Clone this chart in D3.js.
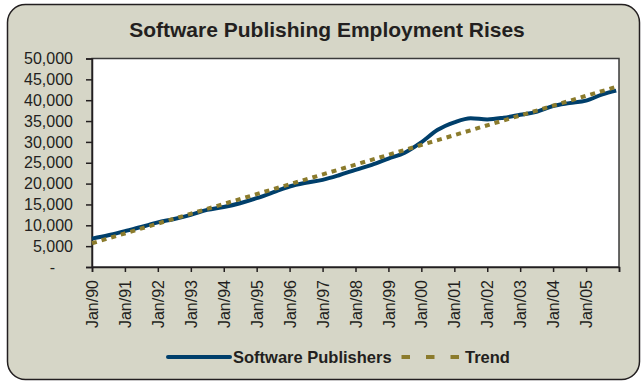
<!DOCTYPE html>
<html>
<head>
<meta charset="utf-8">
<script src="https://cdn.jsdelivr.net/npm/d3@7"></script>
<style>
  body { margin: 0; background: #fff; }
  text { font-family: "Liberation Sans", Arial, sans-serif; fill: #231f20; }
</style>
</head>
<body>
<div class="chart"></div>
<script>
var svgWidth = 644;
var svgHeight = 383;

// half-yearly readings
var months = ["1990-01","1990-07","1991-01","1991-07","1992-01","1992-07","1993-01","1993-07",
  "1994-01","1994-07","1995-01","1995-07","1996-01","1996-07","1997-01","1997-07",
  "1998-01","1998-07","1999-01","1999-07","2000-01","2000-07","2001-01","2001-07",
  "2002-01","2002-07","2003-01","2003-07","2004-01","2004-07","2005-01","2005-07","2005-12"];
var publishers = [6800, 7600, 8600, 9600, 10700, 11500, 12500, 13700,
  14400, 15300, 16500, 17900, 19300, 20200, 20900, 22000,
  23300, 24500, 26000, 27400, 29900, 32900, 34700, 35700,
  35400, 35800, 36500, 37200, 38600, 39300, 39900, 41400, 42300];

var trendMonths = ["1990-01", "2005-12"];
var trendValues = [5700, 43200];

var xTickLabels = ["Jan/90","Jan/91","Jan/92","Jan/93","Jan/94","Jan/95","Jan/96","Jan/97",
  "Jan/98","Jan/99","Jan/00","Jan/01","Jan/02","Jan/03","Jan/04","Jan/05"];
var yTicks = [0, 5000, 10000, 15000, 20000, 25000, 30000, 35000, 40000, 45000, 50000];

var margin = { top: 58.5, right: 25, bottom: 116, left: 92 };
var width = svgWidth - margin.left - margin.right;
var height = svgHeight - margin.top - margin.bottom;

var parseMonth = d3.timeParse("%Y-%m");

var svg = d3.select(".chart")
  .append("svg")
  .attr("width", svgWidth)
  .attr("height", svgHeight);

// outer frame
svg.append("rect")
  .attr("x", 7.5).attr("y", 4.5)
  .attr("width", 632).attr("height", 375)
  .attr("rx", 18).attr("ry", 18)
  .attr("fill", "#d6d6c7")
  .attr("stroke", "#231f20")
  .attr("stroke-width", 1.5);

svg.append("text")
  .attr("x", 327)
  .attr("y", 37)
  .attr("text-anchor", "middle")
  .attr("font-size", "21px")
  .attr("font-weight", "bold")
  .text("Software Publishing Employment Rises");

var chartGroup = svg.append("g")
  .attr("transform", `translate(${margin.left}, ${margin.top})`);

chartGroup.append("rect")
  .attr("width", width)
  .attr("height", height)
  .attr("fill", "#fff")
  .attr("stroke", "#3a3a3a")
  .attr("stroke-width", 1.5);

var xScale = d3.scaleTime()
  .domain([parseMonth("1990-01"), parseMonth("2006-01")])
  .range([0, width]);

var yScale = d3.scaleLinear()
  .domain([0, 50000])
  .range([height, 0]);

var yearTicks = d3.timeYear.range(parseMonth("1990-01"), parseMonth("2006-02"));

var bottomAxis = d3.axisBottom(xScale)
  .tickValues(yearTicks)
  .tickSize(5)
  .tickFormat(function(d, i) { return xTickLabels[i] || ""; });

var leftAxis = d3.axisLeft(yScale)
  .tickValues(yTicks)
  .tickSize(6)
  .tickPadding(13)
  .tickFormat(function(d) { return d === 0 ? "-" : d3.format(",")(d); });

var xAxisG = chartGroup.append("g")
  .attr("transform", `translate(0, ${height})`)
  .call(bottomAxis);

xAxisG.selectAll("text")
  .attr("transform", "rotate(-90)")
  .attr("x", -13)
  .attr("y", 0)
  .attr("dy", "0.35em")
  .attr("text-anchor", "end")
  .attr("font-size", "16px")
  .attr("font-family", "Liberation Sans, Arial, sans-serif")
  .attr("fill", "#231f20");

var yAxisG = chartGroup.append("g")
  .call(leftAxis);

yAxisG.selectAll("text")
  .attr("font-size", "16px")
  .attr("font-family", "Liberation Sans, Arial, sans-serif")
  .attr("fill", "#231f20")
  .filter(function(d) { return d === 0; })
  .attr("x", -37);

chartGroup.selectAll(".domain, .tick line")
  .attr("stroke", "#231f20")
  .attr("stroke-width", 1.5);

var line = d3.line()
  .x(function(d) { return xScale(d.date); })
  .y(function(d) { return yScale(d.value); })
  .curve(d3.curveMonotoneX);

var pubData = months.map(function(m, i) {
  return { date: parseMonth(m), value: publishers[i] };
});
var trendData = trendMonths.map(function(m, i) {
  return { date: parseMonth(m), value: trendValues[i] };
});

chartGroup.append("path")
  .datum(pubData)
  .attr("d", line)
  .attr("fill", "none")
  .attr("stroke", "#003f6b")
  .attr("stroke-width", 4);

chartGroup.append("path")
  .datum(trendData)
  .attr("d", line)
  .attr("fill", "none")
  .attr("stroke", "#8b7b2c")
  .attr("stroke-width", 4)
  .attr("stroke-dasharray", "5,5");

// legend
var legend = svg.append("g");

legend.append("line")
  .attr("x1", 168).attr("x2", 230)
  .attr("y1", 357).attr("y2", 357)
  .attr("stroke", "#003f6b")
  .attr("stroke-width", 4)
  .attr("stroke-linecap", "round");

legend.append("text")
  .attr("x", 233).attr("y", 363)
  .attr("font-size", "16.5px")
  .attr("font-weight", "bold")
  .text("Software Publishers");

legend.append("line")
  .attr("x1", 401.5).attr("x2", 460)
  .attr("y1", 357).attr("y2", 357)
  .attr("stroke", "#8b7b2c")
  .attr("stroke-width", 4)
  .attr("stroke-dasharray", "8.5,16");

legend.append("text")
  .attr("x", 465).attr("y", 363)
  .attr("font-size", "16.5px")
  .attr("font-weight", "bold")
  .text("Trend");
</script>
</body>
</html>
